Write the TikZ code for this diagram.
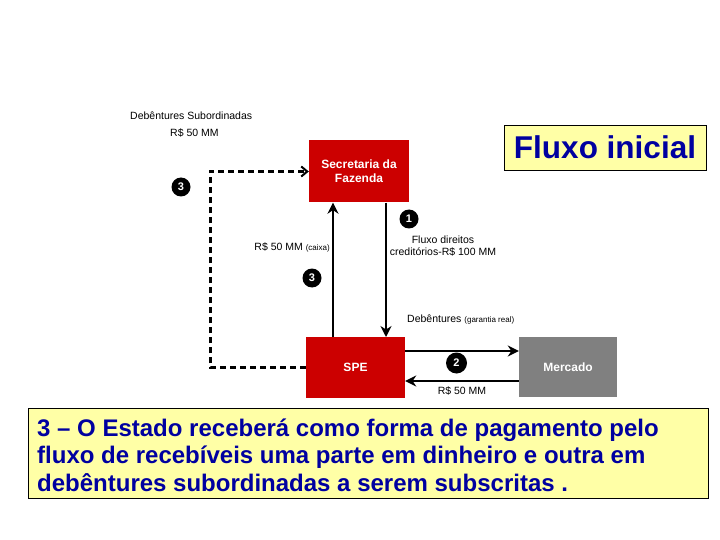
\documentclass[tikz,border=0pt]{standalone}
\usepackage{fontspec}
\setmainfont{Liberation Sans}
\usetikzlibrary{arrows.meta}
\definecolor{boxred}{HTML}{CC0000}
\definecolor{boxgray}{HTML}{808080}
\definecolor{noteyellow}{HTML}{FFFFA6}
\definecolor{noteblue}{HTML}{0000A0}

\begin{document}
\begin{tikzpicture}[x=1pt,y=-1pt,
    entity/.style={fill=#1, text=white, font=\fontsize{12}{14}\selectfont\bfseries, align=center, minimum width=100, minimum height=62, inner sep=0},
    numdot/.style={circle, fill=black, text=white, font=\fontsize{11}{11}\selectfont\bfseries, minimum size=19, inner sep=0},
    small/.style={font=\fontsize{10.5}{12}\selectfont, inner sep=0},
    flow/.style={line width=2.1pt, -{Stealth[length=11pt,width=11pt]}},
    back/.style={line width=3pt, dashed, dash pattern=on 6pt off 4pt, -{Straight Barb[length=6pt,width=10pt,line width=2pt]}},
    note/.style={draw=black, fill=noteyellow, text=noteblue, font=\bfseries, line width=0.8pt}]
  \useasboundingbox (0,0) rectangle (720,540);

  % boxes
  \node[entity=boxred] (sef) at (359,171.5) {Secretaria da\\Fazenda};
  \node[entity=boxred, minimum width=99, minimum height=61] (spe) at (355.5,367.5) {SPE};
  \node[entity=boxgray, minimum width=98, minimum height=60] (mkt) at (568,367) {Mercado};

  % titles
  \node[note, minimum width=202, minimum height=45, font=\fontsize{31.5}{33}\selectfont\bfseries] (title) at (605,147.5) {Fluxo inicial};
  \node[note, minimum width=680, minimum height=90] (memo) at (368,453) {};
  \node[anchor=west, text=noteblue, align=left, inner sep=0,
        font=\fontsize{24}{27.5}\selectfont\bfseries] (memotext) at (37,455)
    {3 – O Estado receberá como forma de pagamento pelo\\
     fluxo de recebíveis uma parte em dinheiro e outra em\\
     debêntures subordinadas a serem subscritas .};

  % vertical flows
  \coordinate (upfoot) at (333,337);
  \coordinate (dnhead) at (386,337);
  \draw[flow] (upfoot) -- (upfoot |- sef.south);
  \draw[flow] (dnhead |- sef.south) -- (dnhead);

  % SPE <-> Mercado
  \draw[flow] ([yshift=16.5]spe.east) -- ([yshift=16.5]spe.east -| mkt.west);
  \draw[flow] ([yshift=-14]mkt.west) -- ([yshift=-14]mkt.west -| spe.east);

  % dashed return to the Secretaria
  \coordinate (corner) at (210,367.5);
  \draw[back] (spe.west) -- (corner) |- (sef.west);

  % numbers
  \node[numdot] (n3a) at (181,187) {3};
  \node[numdot] (n1) at (409,219) {1};
  \node[numdot] (n3b) at (312,278) {3};
  \node[numdot, minimum size=21] (n2) at (456.5,363) {2};

  % labels
  \node[small, anchor=west] (deb) at (130,116) {Debêntures Subordinadas};
  \node[small, anchor=west] (debv) at (170,133) {R\$ 50 MM};
  \node[small, anchor=east] (caixa) at (330,247) {R\$ 50 MM {\fontsize{8}{9}\selectfont(caixa)}};
  \node[small, align=center] (fluxo) at (443,246.5) {Fluxo direitos\\creditórios-R\$ 100 MM};
  \node[small, anchor=west] (real) at (407,320) {Debêntures {\fontsize{8}{9}\selectfont(garantia real)}};
  \node[small] (mktv) at (462,391) {R\$ 50 MM};
\end{tikzpicture}
\end{document}
